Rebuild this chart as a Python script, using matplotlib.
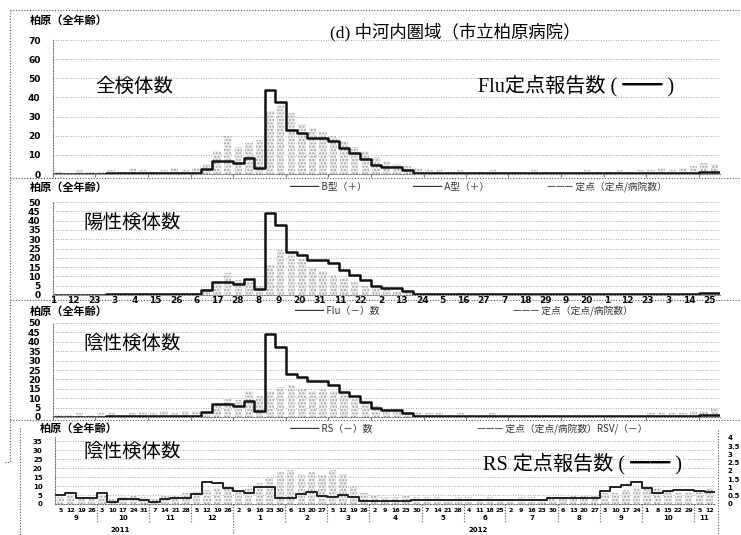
import numpy as np
import matplotlib.pyplot as plt
from matplotlib.lines import Line2D

plt.rcParams['font.family'] = ['Noto Sans CJK JP', 'DejaVu Sans']

# weekly data, Sep 2011 - Nov 2012 (63 weeks)
weeks = np.arange(63)

# Flu sentinel reports per clinic (step line, panels 1-3)
flu_report = [0.2, 0.2, 0.2, 0.2, 0.2, 0.3, 0.3, 0.3, 0.3, 0.4, 0.4, 0.4, 0.5, 0.6,
              2.5, 7, 7, 6, 8.5, 3, 44, 37.5, 23, 21.5, 19, 19, 17, 13.5, 11, 8,
              4.7, 3.6, 3.6, 2,
              0.5, 0.5, 0.5, 0.5, 0.5, 0.5, 0.5, 0.5, 0.5, 0.5, 0.5, 0.5, 0.5, 0.5,
              0.5, 0.5, 0.5, 0.5, 0.5, 0.5, 0.5, 0.5, 0.5, 0.6, 0.6, 0.6, 0.7,
              1, 1]

# specimen counts (grey bars)
all_samples = [1, 0, 2, 1, 1, 2, 1, 3, 2, 1, 2, 3, 2, 3,
               5, 12, 20, 14, 16, 18, 33, 36, 32, 26, 24, 22, 20, 17, 14, 12, 9, 7, 5, 4,
               3, 2, 2, 1, 2, 1, 1, 2, 1, 1, 1, 2, 1, 1, 1, 1, 2, 1, 1, 2, 1, 2, 2, 3, 2, 3, 4,
               6, 5]
pos_samples = [0, 0, 0, 0, 0, 0, 0, 0, 1, 0, 0, 1, 1, 1,
               3, 6, 12, 8, 7, 5, 16, 24, 22, 20, 15, 13, 11, 9, 7, 5, 4, 3, 2, 2,
               1, 1, 1, 0, 1, 0, 0, 1, 0, 0, 0, 0, 0, 0, 0, 0, 0, 0, 0, 0, 0, 0, 0, 0, 0, 0, 0,
               0, 0]
neg_samples = [1, 1, 2, 1, 2, 2, 1, 2, 2, 2, 3, 2, 3, 3,
               3, 7, 10, 9, 14, 11, 14, 16, 17, 15, 14, 15, 14, 12, 10, 8, 6, 5, 4, 3,
               2, 2, 2, 1, 2, 1, 1, 2, 1, 1, 1, 1, 1, 1, 1, 1, 1, 1, 1, 1, 1, 1, 2, 2, 2, 2, 3,
               3, 4]
rs_neg_samples = [4, 5, 4, 4, 5, 3, 4, 5, 4, 3, 5, 5, 6, 7,
                  8, 9, 10, 8, 9, 12, 15, 18, 19, 17, 18, 16, 19, 17, 10, 6, 5, 4, 4, 5,
                  4, 4, 4, 3, 4, 4, 3, 4, 3, 3, 4, 4, 3, 4, 4, 5, 5, 5, 6, 6, 8, 9, 10, 9, 7, 6, 6,
                  8, 9]

# RS sentinel reports per clinic
rs_report = [0.55, 0.67, 0.36, 0.36, 0.67, 0.1, 0.3, 0.3, 0.25, 0.12, 0.3, 0.36, 0.36, 0.6,
             1.33, 1.27, 0.97, 0.8, 0.67, 1.03,
             1.03, 0.36, 0.36, 0.6, 0.73, 0.5, 0.42, 0.55, 0.42, 0.2,
             0.2, 0.2, 0.2, 0.2, 0.25, 0.25, 0.25, 0.25, 0.25, 0.25,
             0.25, 0.25, 0.25, 0.25, 0.25, 0.25, 0.25, 0.36, 0.36, 0.36,
             0.36, 0.36, 0.8, 1.03, 1.15, 1.33, 0.97, 0.67, 0.8, 0.85,
             0.85, 0.8, 0.75]

# x tick labels
day_ticks = ['1', '12', '23', '3', '4', '15', '26', '6', '17', '28', '8', '9', '20', '31',
             '11', '22', '2', '13', '24', '5', '16', '27', '7', '18', '29', '9', '20', '1',
             '12', '23', '3', '14', '25']
week_days = ['5', '12', '19', '26', '3', '10', '17', '24', '31', '7', '14', '21', '28',
             '5', '12', '19', '26', '2', '9', '16', '23', '30', '6', '13', '20', '27',
             '5', '12', '19', '26', '2', '9', '16', '23', '30', '7', '14', '21', '28',
             '4', '11', '18', '25', '2', '9', '16', '23', '30', '6', '13', '20', '27',
             '3', '10', '17', '24', '1', '8', '15', '22', '29', '5', '12']
months = ['9', '10', '11', '12', '1', '2', '3', '4', '5', '6', '7', '8', '9', '10', '11']
month_start = [0, 4, 9, 13, 17, 22, 26, 30, 35, 39, 43, 48, 52, 56, 61, 63]

W, H = 741, 535
fig = plt.figure(figsize=(W / 100, H / 100), dpi=100)

def fx(x):
    return x / W

def fy(y):
    return 1 - y / H

def panel(x0, y0, x1, y1):
    return fig.add_axes([fx(x0), fy(y1), (x1 - x0) / W, (y1 - y0) / H])

def hline(x0, x1, y, **kw):
    fig.add_artist(Line2D([fx(x0), fx(x1)], [fy(y), fy(y)], color='#555555',
                          lw=0.8, ls=(0, (1, 1.5)), **kw))

def vline(x, y0, y1, **kw):
    fig.add_artist(Line2D([fx(x), fx(x)], [fy(y0), fy(y1)], color='#555555',
                          lw=0.8, ls=(0, (1, 1.5)), **kw))

grid_kw = dict(color='#8a8a8a', lw=0.6, ls=(0, (1, 2)))
bar_kw = dict(width=0.7, color='#efefef', edgecolor='#a4a4a4', hatch='.....', lw=0)
step_kw = dict(where='post', color='#111111', lw=1.8)
tick_font = dict(fontsize=6.5, fontweight='bold', family='DejaVu Sans')
small_font = dict(fontsize=5, fontweight='bold', family='DejaVu Sans')

def style(ax, top, step):
    ax.set_xlim(0, 63)
    ax.set_ylim(0, top)
    ax.set_yticks(np.arange(0, top + 0.1, step))
    ax.set_yticklabels([f'{v:g}' for v in np.arange(0, top + 0.1, step)], **tick_font)
    ax.tick_params(axis='y', length=0, pad=9)
    ax.tick_params(axis='x', length=2, color='#777777')
    ax.set_xticks(month_start[:-1])
    ax.set_xticklabels([])
    for s in ['top', 'right']:
        ax.spines[s].set_visible(False)
    for s in ['left', 'bottom']:
        ax.spines[s].set_color('#777777')
        ax.spines[s].set_linestyle((0, (1, 1.5)))
        ax.spines[s].set_linewidth(0.8)
    ax.yaxis.grid(True, **grid_kw)
    ax.set_axisbelow(True)
    ax.patch.set_alpha(0)

def flu_step(ax, vals):
    ax.step(list(weeks) + [63], list(vals) + [vals[-1]], **step_kw)

# panel 1: all specimens
ax1 = panel(53, 40, 720, 174)
style(ax1, 70, 10)
ax1.bar(weeks + 0.5, all_samples, **bar_kw)
flu_step(ax1, flu_report)

# panel 2: positive specimens
ax2 = panel(53, 202, 720, 295)
style(ax2, 50, 5)
ax2.bar(weeks + 0.5, pos_samples, **bar_kw)
flu_step(ax2, flu_report)
ax2.set_xticks(np.linspace(0, 62, len(day_ticks)))
ax2.set_xticklabels(day_ticks, **tick_font)
ax2.tick_params(axis='x', length=0, pad=0.5)

# panel 3: negative specimens
ax3 = panel(53, 323, 720, 417)
style(ax3, 50, 5)
ax3.bar(weeks + 0.5, neg_samples, **bar_kw)
flu_step(ax3, flu_report)

# panel 4: negative specimens vs RS reports
ax4 = panel(55, 437, 715, 504)
style(ax4, 37.4, 5)
ax4.set_yticks(np.arange(0, 36, 5))
ax4.set_yticklabels([str(v) for v in range(0, 36, 5)], **small_font)
ax4.bar(weeks + 0.5, rs_neg_samples, **bar_kw)
ax4.set_xticks(weeks + 0.5)
ax4.set_xticklabels(week_days, fontsize=4.5, fontweight='bold', family='DejaVu Sans')
ax4.tick_params(axis='x', length=0, pad=3)
ax4r = ax4.twinx()
ax4r.set_ylim(0, 4.06)
ax4r.set_yticks(np.arange(0, 4.01, 0.5))
ax4r.set_yticklabels([f'{v:g}' for v in np.arange(0, 4.01, 0.5)], **small_font)
ax4r.tick_params(axis='y', length=0, pad=9)
for s in ax4r.spines.values():
    s.set_visible(False)
ax4r.step(list(weeks) + [63], rs_report + [rs_report[-1]], where='post',
          color='#222222', lw=1.4)

# month / year labels under panel 4
for i, m in enumerate(months):
    c = (month_start[i] + month_start[i + 1]) / 2
    ax4.text(c, -0.16, m, transform=ax4.get_xaxis_transform(), ha='center', va='top',
             **small_font)
for i in range(1, len(months)):
    xpix = 55 + month_start[i] * (660 / 63)
    vline(xpix, 504, 522 if i != 4 else 535)
fig.text(fx(120), fy(530), '2011', ha='center', va='center', **small_font)
fig.text(fx(478), fy(530), '2012', ha='center', va='center', **small_font)

# dotted frames
hline(10, 741, 10)
hline(10, 741, 178)
hline(10, 741, 300)
hline(10, 741, 420)
vline(10, 10, 462)
hline(5, 10, 462)
vline(20, 428, 535)
vline(718, 430, 535)

# titles
fig.text(fx(330), fy(32), '(d) 中河内圏域（市立柏原病院）', fontsize=12.5,
         ha='left', va='center', family=['Liberation Serif', 'Noto Sans CJK JP'])
for y in (20, 187, 311, 428):
    fig.text(fx(30 if y < 420 else 40), fy(y), '柏原（全年齢）', fontsize=8,
             fontweight='bold', ha='left', va='center')

big = dict(fontsize=14, ha='left', va='center')
fig.text(fx(95), fy(86), '全検体数', **big)
fig.text(fx(83), fy(222), '陽性検体数', **big)
fig.text(fx(83), fy(343), '陰性検体数', **big)
fig.text(fx(83), fy(451), '陰性検体数', **big)
fig.text(fx(478), fy(86), 'Flu定点報告数 ( ━━ )', fontsize=14.5, ha='left', va='center',
         family=['Liberation Serif', 'Noto Sans CJK JP'])
fig.text(fx(483), fy(464), 'RS 定点報告数 ( ━━ )', fontsize=14.5, ha='left', va='center',
         family=['Liberation Serif', 'Noto Sans CJK JP'])

# legend rows
leg = dict(fontsize=7, ha='left', va='center', color='#333333')
fig.text(fx(290), fy(187), '━━━ B型（＋）', **leg)
fig.text(fx(413), fy(187), '━━━ A型（＋）', **leg)
fig.text(fx(547), fy(187), '——— 定点（定点/病院数）', **leg)
fig.text(fx(295), fy(311), '━━━ Flu（－）数', **leg)
fig.text(fx(513), fy(311), '——— 定点（定点/病院数）', **leg)
fig.text(fx(290), fy(429), '━━━ RS（－）数', **leg)
fig.text(fx(477), fy(429), '——— 定点（定点/病院数）RSV/（－）', **leg)

fig.savefig('out.png', dpi=100)
